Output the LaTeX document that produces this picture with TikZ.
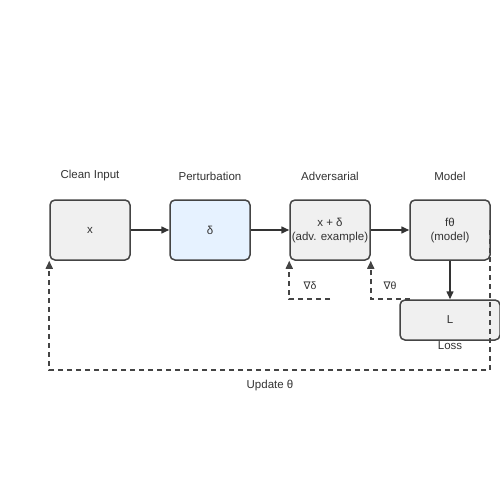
\documentclass[tikz,border=0pt]{standalone}
\usepackage{fontspec}
\setmainfont{Liberation Sans}
\newfontfamily\symfont{DejaVu Sans}
\usetikzlibrary{arrows.meta}
\definecolor{boxfill}{HTML}{F0F0F0}
\definecolor{pertfill}{HTML}{E6F2FF}
\definecolor{edgecol}{HTML}{444444}
\definecolor{txtcol}{HTML}{333333}
\newcommand{\twolines}[2]{\raisebox{-3pt}{\begin{tabular}{@{}c@{}}#1\\[-1pt]#2\end{tabular}}}
\tikzset{
	stagebox/.style={draw=edgecol, line width=1.5pt, rounded corners=5pt, fill=boxfill,
		minimum width=80pt, minimum height=60pt, inner sep=0pt, align=center,
		text=txtcol, font=\fontsize{11.5}{15}\selectfont},
	title/.style={text=txtcol, font=\fontsize{11.5}{14}\selectfont, inner sep=0pt},
	flow/.style={draw=txtcol, line width=1.5pt, -{Triangle[length=8pt,width=7pt]}},
	back/.style={flow, draw=edgecol, line width=1.6pt, dash pattern=on 5pt off 4pt},
}
\begin{document}
\begin{tikzpicture}[x=1pt, y=-1pt]
\useasboundingbox (0,0) rectangle (500,500);
% stages
\node[stagebox] (clean) at (90,230) {x};
\node[stagebox, fill=pertfill] (pert) at (210,230) {δ};
\node[stagebox] (adv) at (330,230) {\twolines{x + δ}{(adv. example)}};
\node[stagebox] (model) at (450,230) {\twolines{fθ}{(model)}};
\node[stagebox, minimum width=100pt, minimum height=40pt] (loss) at (450,320) {L};
% titles
\node[title] (tclean) at (90,176) {Clean Input};
\node[title] (tpert) at (210,176) {Perturbation};
\node[title] (tadv) at (330,176) {Adversarial};
\node[title] (tmodel) at (450,176) {Model};
\node[title] (tloss) at (450,346) {Loss};
% forward pass
\draw[flow] (clean) -- (pert);
\draw[flow] (pert) -- (adv);
\draw[flow] (adv) -- (model);
\draw[flow] (model) -- (loss);
% gradients
\coordinate (gd) at (330,299);
\coordinate (gt) at (410,299);
\coordinate (up) at (490,230);
\draw[back] (gd) -| (adv.south west);
\draw[back] (gt) -| (adv.south east);
\draw[back] (up) -- (490,370) -| (clean.south west);
\node[title, font=\fontsize{10.5}{12}\selectfont] (lgd) at (310,286) {{\symfont ∇}δ};
\node[title, font=\fontsize{10.5}{12}\selectfont] (lgt) at (390,286) {{\symfont ∇}θ};
\node[title] (lup) at (270,386) {Update θ};
\end{tikzpicture}
\end{document}
